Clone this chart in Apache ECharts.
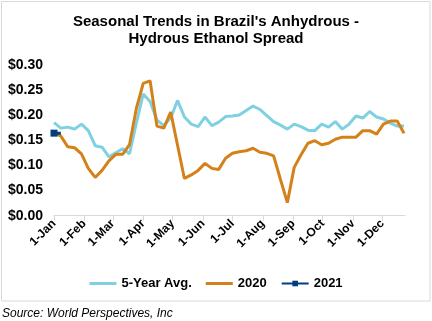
<!DOCTYPE html>
<html>
<head>
<meta charset="utf-8">
<script src="https://cdn.jsdelivr.net/npm/echarts@6/dist/echarts.min.js"></script>
<style>
  html, body { margin: 0; padding: 0; background: #fff; }
  #chart { width: 432px; height: 321px; }
</style>
</head>
<body>
<div id="chart"></div>
<script>
// Weekly spread (US$/liter), one value per week starting 1-Jan
const avg5yr = [0.185, 0.174, 0.176, 0.172, 0.182, 0.169, 0.139, 0.136, 0.117, 0.125,
  0.133, 0.123, 0.184, 0.242, 0.227, 0.190, 0.179, 0.194, 0.229, 0.196,
  0.182, 0.177, 0.196, 0.179, 0.186, 0.197, 0.198, 0.200, 0.209, 0.218,
  0.211, 0.199, 0.187, 0.180, 0.172, 0.182, 0.177, 0.170, 0.169, 0.182,
  0.176, 0.187, 0.172, 0.182, 0.198, 0.194, 0.207, 0.196, 0.192, 0.184,
  0.178, 0.178];
const y2020 = [0.165, 0.158, 0.137, 0.135, 0.123, 0.094, 0.076, 0.090, 0.109, 0.122,
  0.122, 0.141, 0.213, 0.263, 0.268, 0.178, 0.174, 0.206, 0.140, 0.074,
  0.081, 0.090, 0.104, 0.094, 0.092, 0.114, 0.124, 0.127, 0.129, 0.134,
  0.126, 0.124, 0.119, 0.072, 0.026, 0.096, 0.121, 0.144, 0.149, 0.141,
  0.144, 0.152, 0.156, 0.156, 0.156, 0.169, 0.169, 0.162, 0.182, 0.188,
  0.188, 0.164];
const y2021 = [0.164, 0.164];

const monthNames = ['Jan', 'Feb', 'Mar', 'Apr', 'May', 'Jun', 'Jul', 'Aug', 'Sep', 'Oct', 'Nov', 'Dec'];
const monthDays = [31, 29, 31, 30, 31, 30, 31, 31, 30, 31, 30, 31];
const lastDay = 358; // axis runs 1-Jan .. 24-Dec

// Daily category axis; month starts carry the labels and ticks
const days = [];
const monthStart = {};
let m = 0, d = 1;
for (let i = 0; i <= lastDay; i++) {
  days.push(d + '-' + monthNames[m]);
  if (d === 1) monthStart[i] = true;
  d++;
  if (d > monthDays[m]) { d = 1; m++; }
}
const isMonthStart = (idx) => !!monthStart[idx];

function weekly(values) {
  const arr = new Array(days.length).fill(null);
  values.forEach((v, k) => { arr[k * 7] = v; });
  return arr;
}

// plain bar icon for the line-only legend entries
const barIcon = 'path://M0,0H27V3H0Z';

const chart = echarts.init(document.getElementById('chart'), null, { renderer: 'canvas' });
chart.setOption({
  animation: false,
  backgroundColor: '#fff',
  title: {
    text: "Seasonal Trends in Brazil's Anhydrous -\nHydrous Ethanol Spread",
    left: 'center',
    top: 8,
    textStyle: { fontFamily: 'Liberation Sans', fontSize: 15, fontWeight: 'bold', color: '#000', lineHeight: 17 }
  },
  graphic: [
    {
      type: 'rect',
      shape: { x: 1.5, y: 1.5, width: 428.5, height: 299.5 },
      style: { fill: 'none', stroke: '#d9d9d9', lineWidth: 1 },
      silent: true
    },
    {
      type: 'text',
      left: 2,
      top: 308,
      style: { text: 'Source: World Perspectives, Inc', fill: '#000', font: 'italic 12px "Liberation Sans"' }
    }
  ],
  legend: {
    left: 'center',
    top: 272,
    itemGap: 14,
    itemWidth: 27,
    itemHeight: 7,
    symbolKeepAspect: true,
    textStyle: { fontFamily: 'Liberation Sans', fontSize: 13, fontWeight: 'bold', color: '#000' },
    data: [
      { name: '5-Year Avg.', icon: barIcon },
      { name: '2020', icon: barIcon },
      { name: '2021' }
    ]
  },
  grid: { left: 54, right: 27, top: 64.7, bottom: 105.3 },
  xAxis: {
    type: 'category',
    data: days,
    boundaryGap: false,
    axisLine: { lineStyle: { color: '#d9d9d9', width: 1 } },
    axisTick: { interval: isMonthStart, length: 5, lineStyle: { color: '#d9d9d9' } },
    axisLabel: {
      interval: isMonthStart,
      rotate: 45,
      margin: 6,
      fontFamily: 'Liberation Sans',
      fontSize: 12,
      fontWeight: 'bold',
      color: '#000'
    }
  },
  yAxis: {
    type: 'value',
    min: 0,
    max: 0.3,
    interval: 0.05,
    axisLine: { show: false },
    axisTick: { show: false },
    splitLine: { show: false },
    axisLabel: {
      margin: 11,
      fontFamily: 'Liberation Sans',
      fontSize: 14,
      fontWeight: 'bold',
      color: '#000',
      formatter: (v) => '$' + v.toFixed(2)
    }
  },
  series: [
    {
      name: '5-Year Avg.',
      type: 'line',
      data: weekly(avg5yr),
      connectNulls: true,
      symbol: 'none',
      lineStyle: { color: '#7fd1e2', width: 3 },
      itemStyle: { color: '#7fd1e2' },
      z: 2
    },
    {
      name: '2020',
      type: 'line',
      data: weekly(y2020),
      connectNulls: true,
      symbol: 'none',
      lineStyle: { color: '#d4811a', width: 3 },
      itemStyle: { color: '#d4811a' },
      z: 3
    },
    {
      name: '2021',
      type: 'line',
      data: weekly(y2021),
      connectNulls: true,
      symbol: 'rect',
      symbolSize: 7,
      showSymbol: true,
      lineStyle: { color: '#003f7f', width: 3 },
      itemStyle: { color: '#003f7f' },
      z: 4
    }
  ]
});
</script>
</body>
</html>
